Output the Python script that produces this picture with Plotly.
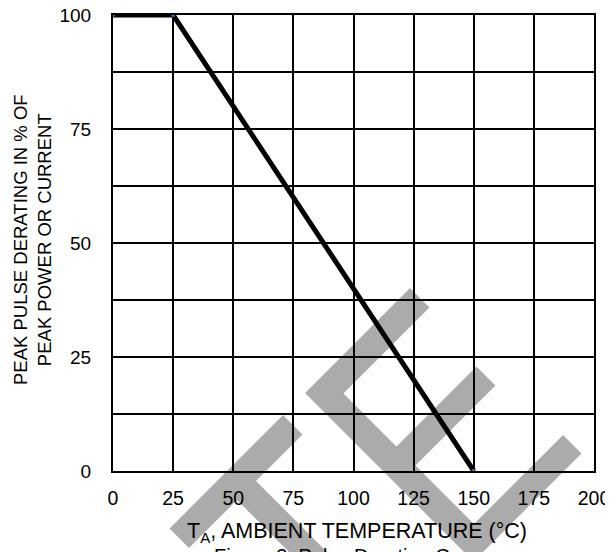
import plotly.graph_objects as go

# Data
temperature = [0, 25, 150]
derating = [100, 100, 0]
x_ticks = [0, 25, 50, 75, 100, 125, 150, 175, 200]
y_ticks = [0, 25, 50, 75, 100]

# page has an 8px body margin; figure size chosen so it fills the 613x552 window
OFF = 8
W, H = 613 - OFF, 552 - OFF
# plot area in window pixels: x 113..594, y 15..471
L, R, T, B = 113 - OFF, 613 - 594, 15 - OFF, 552 - 471
PW, PH = 594 - 113, 471 - 15

def px(x, y):
    """window pixel -> paper coords"""
    return ((x - 113) / PW, (471 - y) / PH)

def path(points):
    pts = [px(x, y) for x, y in points]
    return "M " + " L ".join(f"{a:.4f},{b:.4f}" for a, b in pts) + " Z"

E_shape = [(410, 288), (429.5, 307.5), (343.5, 393.5), (396.5, 446.5), (476.5, 366.5),
           (495.5, 385.5), (415.5, 465.5), (474, 524), (563, 435), (581.5, 453.5),
           (473.5, 561.5), (305, 393)]
T_shape = [(283, 415), (302.5, 434.5), (256, 481), (395, 620), (376, 639), (237, 500),
           (189, 548), (169.5, 528.5)]

FONT = "Liberation Sans, Arial, sans-serif"

fig = go.Figure()
fig.add_trace(go.Scatter(
    x=temperature, y=derating, mode="lines+markers",
    line=dict(color="black", width=5),
    marker=dict(color="#4472C4", size=4),
    showlegend=False, cliponaxis=True,
))

fig.update_layout(
    width=W, height=H,
    margin=dict(l=L, r=R, t=T, b=B, pad=0, autoexpand=False),
    paper_bgcolor="white", plot_bgcolor="white",
    font=dict(family=FONT, size=19, color="black"),
    xaxis=dict(range=[0, 200], tickvals=x_ticks, showgrid=True, gridcolor="black",
               gridwidth=2, zeroline=False, showline=True, linecolor="black",
               linewidth=2, mirror=True, ticks="", ticklabelstandoff=9,
               automargin=False, ticklabeloverflow="allow", tickfont=dict(size=19.5)),
    yaxis=dict(range=[0, 100], tickvals=y_ticks, showgrid=True, gridcolor="black",
               gridwidth=2, zeroline=False, showline=True, linecolor="black",
               linewidth=2, mirror=True, ticks="", ticklabelstandoff=16,
               automargin=False, ticklabeloverflow="allow", tickfont=dict(size=19),
               minor=dict(dtick=12.5, showgrid=True, gridcolor="black", gridwidth=2)),
    shapes=[
        dict(type="path", xref="paper", yref="paper", path=path(E_shape),
             fillcolor="rgba(0,0,0,0.33)", line=dict(width=0), layer="above"),
        dict(type="path", xref="paper", yref="paper", path=path(T_shape),
             fillcolor="rgba(0,0,0,0.33)", line=dict(width=0), layer="above"),
    ],
    annotations=[
        dict(text="PEAK PULSE DERATING IN % OF<br>PEAK POWER OR CURRENT",
             xref="paper", yref="paper", x=px(32, 0)[0], y=px(0, 240)[1],
             textangle=-90, showarrow=False, xanchor="center", yanchor="middle",
             font=dict(size=18.5)),
        dict(text="T<sub>A</sub>, AMBIENT TEMPERATURE (°C)",
             xref="paper", yref="paper", x=px(357, 0)[0], y=px(0, 532)[1],
             showarrow=False, xanchor="center", yanchor="middle", font=dict(size=21.5)),
        dict(text="Figure 3. Pulse Derating Curve",
             xref="paper", yref="paper", x=px(351, 0)[0], y=px(0, 556)[1],
             showarrow=False, xanchor="center", yanchor="middle", font=dict(size=20)),
    ],
)

fig.write_html("out.html")
